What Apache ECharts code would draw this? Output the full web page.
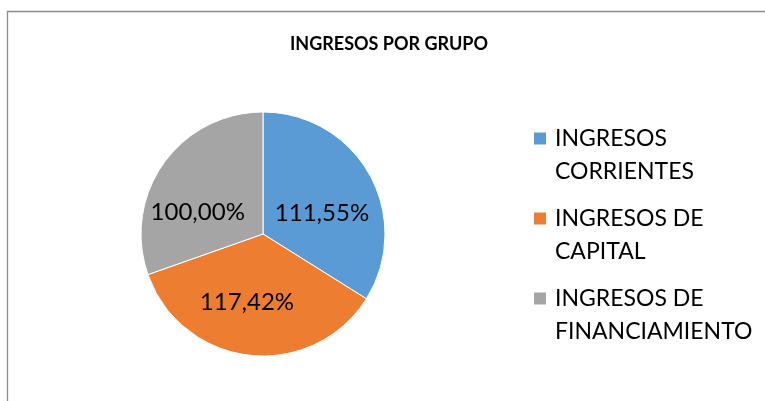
<!DOCTYPE html>
<html>
<head>
<meta charset="utf-8">
<script src="https://cdn.jsdelivr.net/npm/echarts@6/dist/echarts.min.js"></script>
<style>
  html, body { margin: 0; padding: 0; background: #fff; }
  #chart { width: 765px; height: 401px; }
</style>
</head>
<body>
<div id="chart"></div>
<script>
const titleText = 'INGRESOS POR GRUPO'
const categories = ['INGRESOS\nCORRIENTES', 'INGRESOS DE\nCAPITAL', 'INGRESOS DE\nFINANCIAMIENTO']
const values = [111.55, 117.42, 100.00]
const colors = ['#5B9BD5', '#ED7D31', '#A5A5A5']
// desplazamiento de etiquetas para imitar el "mejor ajuste" de Excel
const labelOffsets = [[3, 10], [-9, 5], [-13, 15]]

const fontFamily = 'Lato, "Liberation Sans", sans-serif'

const chart = echarts.init(document.getElementById('chart'))

// formato con coma decimal
const fmt = v => v.toFixed(2).replace('.', ',') + '%'

const option = {
  animation: false,
  title: {
    text: titleText,
    left: 389,
    top: 35,
    padding: 0,
    textAlign: 'center',
    textStyle: {
      fontFamily,
      fontSize: 18,
      fontWeight: 'bold',
      color: '#000'
    }
  },
  graphic: [
    {
      type: 'rect',
      silent: true,
      shape: { x: 7.5, y: 11.5, width: 900, height: 600 },
      style: { fill: 'none', stroke: '#8c8c8c', lineWidth: 1.3 }
    }
  ],
  legend: {
    orient: 'vertical',
    left: 532,
    top: 122,
    padding: 0,
    itemWidth: 17,
    itemHeight: 47,
    itemGap: 14,
    icon: 'path://M0,0H14V14H0Z M17,47H17.01V47.01H17Z',
    textStyle: {
      fontFamily,
      fontSize: 23,
      lineHeight: 33,
      color: '#000'
    }
  },
  series: [
    {
      type: 'pie',
      center: [263, 234],
      radius: 122,
      startAngle: 90,
      clockwise: true,
      itemStyle: { borderColor: '#fff', borderWidth: 1 },
      label: {
        position: 'inside',
        fontFamily,
        fontSize: 24,
        color: '#000',
        formatter: p => fmt(p.value)
      },
      labelLine: { show: false },
      emphasis: { disabled: true },
      data: categories.map((name, i) => ({
        name,
        value: values[i],
        itemStyle: { color: colors[i] },
        label: { offset: labelOffsets[i] }
      }))
    }
  ]
}

chart.setOption(option)
</script>
</body>
</html>
